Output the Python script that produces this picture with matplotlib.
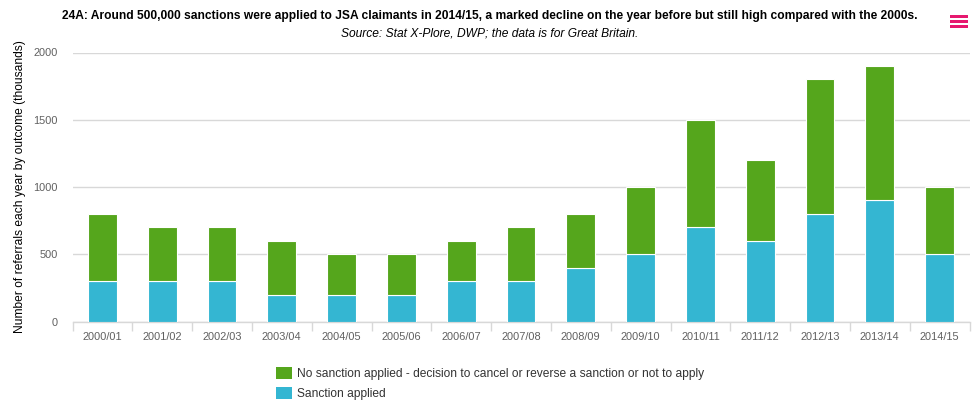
import matplotlib
matplotlib.use("Agg")
import matplotlib.pyplot as plt
from matplotlib.patches import Rectangle
import numpy as np

plt.rcParams['font.family'] = ['Liberation Sans', 'DejaVu Sans']

years = ["2000/01","2001/02","2002/03","2003/04","2004/05","2005/06","2006/07","2007/08",
         "2008/09","2009/10","2010/11","2011/12","2012/13","2013/14","2014/15"]
sanction = [300,300,300,200,200,200,300,300,400,500,700,600,800,900,500]
no_sanction = [500,400,400,400,300,300,300,400,400,500,800,600,1000,1000,500]
yticks = [0,500,1000,1500,2000]
title = "24A: Around 500,000 sanctions were applied to JSA claimants in 2014/15, a marked decline on the year before but still high compared with the 2000s."
subtitle = "Source: Stat X-Plore, DWP; the data is for Great Britain."
ylabel = "Number of referrals each year by outcome (thousands)"
legend_no = "No sanction applied - decision to cancel or reverse a sanction or not to apply"
legend_yes = "Sanction applied"

W, H = 980, 420
GREEN = "#55A61C"
BLUE = "#34B6D2"
GRID = "#D8D8D8"
fx = lambda x: x / W
fy = lambda y: 1 - y / H
PX = 0.72

fig = plt.figure(figsize=(W/100, H/100), dpi=100, facecolor="white")
L, R, T, B = 72.5, 969.5, 52.5, 321.5
ax = fig.add_axes([fx(L), fy(B), (R-L)/W, (B-T)/H])
x = np.arange(len(years))
ax.set_axisbelow(True)
ax.bar(x, sanction, width=0.48, color=BLUE, edgecolor="white", linewidth=0.8, zorder=3)
ax.bar(x, no_sanction, width=0.48, bottom=sanction, color=GREEN, edgecolor="white", linewidth=0.8, zorder=3)
ax.set_xlim(-0.5, len(years)-0.5)
ax.set_ylim(0, 2000)
ax.set_yticks(yticks)
ax.set_xticks(x)
ax.set_xticklabels(years)
ax.yaxis.grid(True, color=GRID, linewidth=1)
ax.xaxis.grid(False)
for s in ["top","right","left"]:
    ax.spines[s].set_visible(False)
ax.spines["bottom"].set_color(GRID)
ax.spines["bottom"].set_linewidth(1)
ax.tick_params(axis="y", length=0, pad=10.5, labelsize=11*PX, labelcolor="#606060")
ax.tick_params(axis="x", length=0, pad=7.5, labelsize=11*PX, labelcolor="#606060")
for lab in ax.get_yticklabels():
    lab.set_y(lab.get_position()[1])
for e in np.arange(len(years)+1) - 0.5:
    ax.plot([e, e], [0, -0.034], transform=ax.get_xaxis_transform(), color=GRID,
            linewidth=1, clip_on=False, solid_capstyle="butt")

fig.text(fx(490), fy(15.5), title, ha="center", va="center", fontsize=11.97*PX, fontweight="bold", color="black")
fig.text(fx(490), fy(33), subtitle, ha="center", va="center", fontsize=12*PX, fontstyle="italic", color="black")
fig.text(fx(20.5), fy(187), ylabel, ha="center", va="center", rotation=90, fontsize=12*PX, color="black")

for (yt, c, lab) in [(367, GREEN, legend_no), (387, BLUE, legend_yes)]:
    fig.add_artist(Rectangle((fx(276), fy(yt+12)), 16/W, 12/H, transform=fig.transFigure, facecolor=c, edgecolor="none"))
    fig.text(fx(297), fy(yt+6.5), lab, ha="left", va="center", fontsize=12*PX, color="#333333")

for yb in [15, 20, 25]:
    fig.add_artist(Rectangle((fx(950), fy(yb+3)), 18/W, 3/H, transform=fig.transFigure, facecolor="#E6186F", edgecolor="none"))

fig.savefig("out.png", dpi=100, facecolor="white")
